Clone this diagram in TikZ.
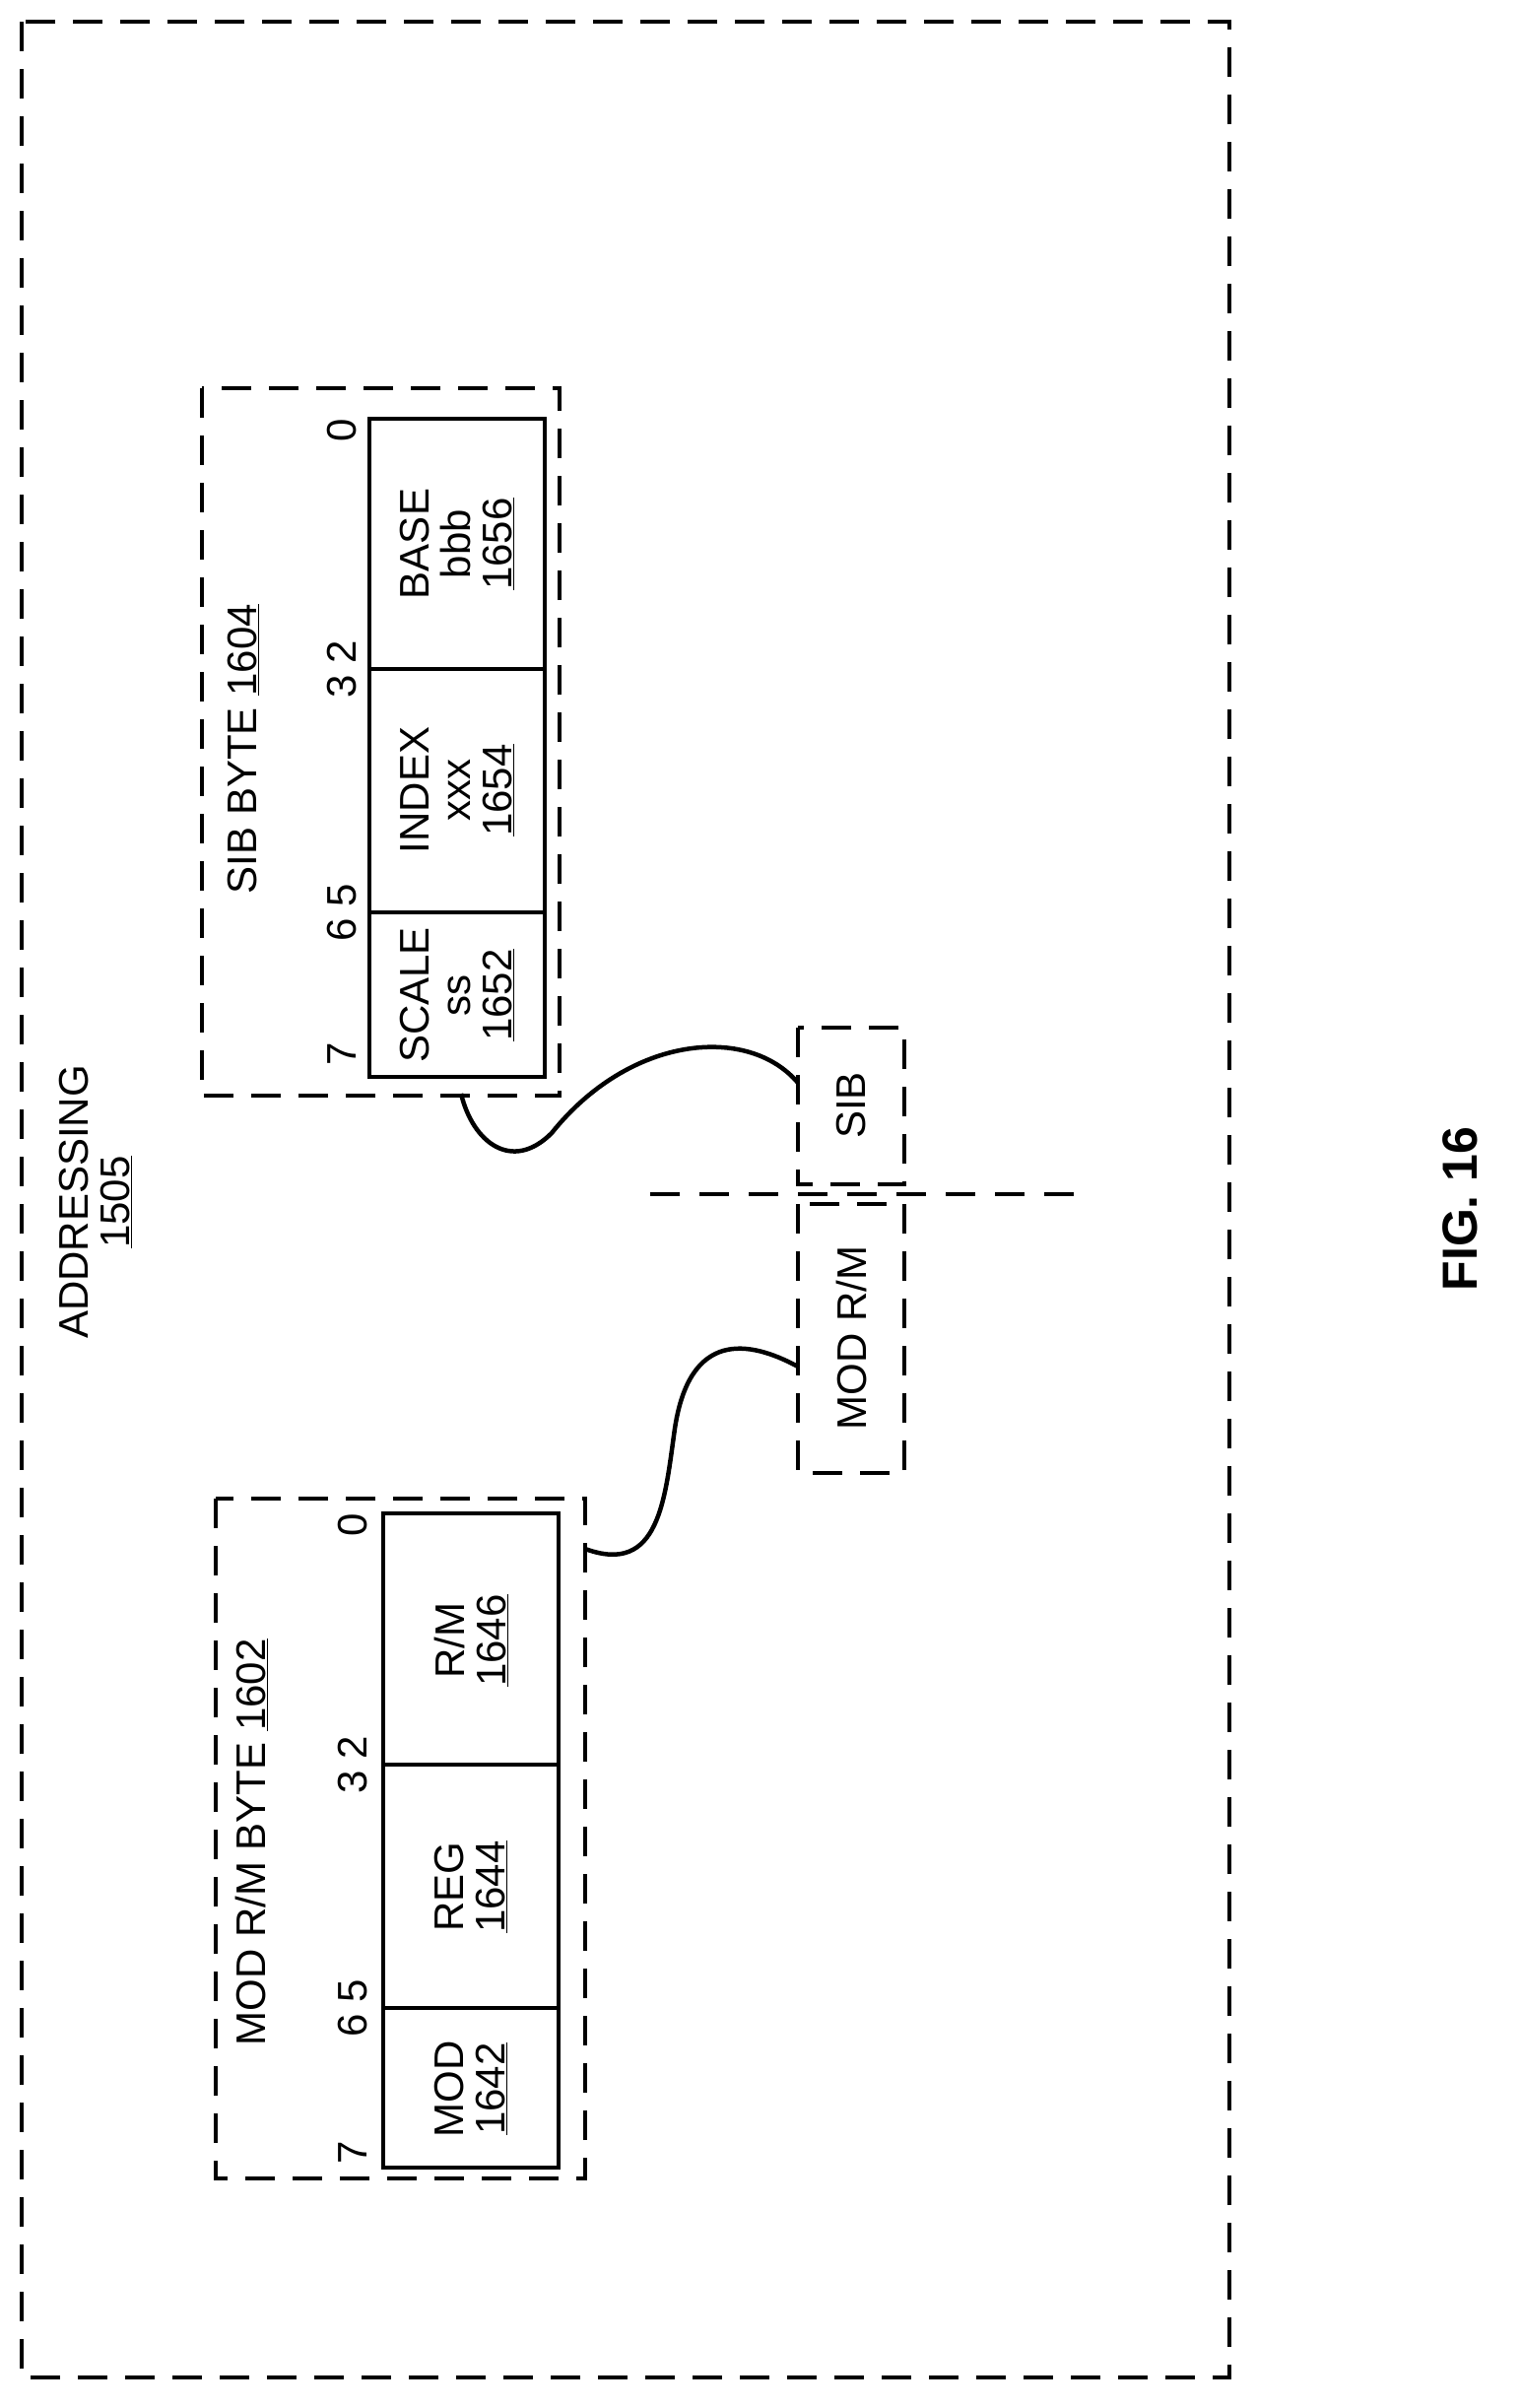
\documentclass[tikz,border=0pt]{standalone}
\usepackage{fontspec}
\setmainfont{Liberation Sans}
\begin{document}
\begin{tikzpicture}[x=1pt,y=-1pt,
  dbox/.style={draw, line width=4pt, dash pattern=on 30pt off 18pt},
  sbox/.style={draw, line width=4pt},
  lbl/.style={rotate=90, inner sep=0pt, font=\fontsize{42}{42}\selectfont, align=center},
  wire/.style={line width=4.5pt}]
  % page
  \useasboundingbox (0,0) rectangle (1544,2444);
  \draw[dbox] (22,22) rectangle (1248,2413);
  \node[lbl] (addr) at (97,1220) {ADDRESSING\\\underline{1505}};

  % SIB byte
  \draw[dbox] (205,394) rectangle (568,1112);
  \draw[sbox] (375,425) rectangle (553,1093);
  \draw[sbox] (375,679) -- (553,679);
  \draw[sbox] (375,926) -- (553,926);
  \node[lbl] (sibt) at (247,760) {SIB BYTE \underline{1604}};
  \node[lbl] at (347,437) {0};
  \node[lbl] at (347,679) {3 2};
  \node[lbl] at (347,926) {6 5};
  \node[lbl] at (347,1070) {7};
  \node[lbl] (base) at (464,552) {BASE\\bbb\\\underline{1656}};
  \node[lbl] (index) at (464,802) {INDEX\\xxx\\\underline{1654}};
  \node[lbl] (scale) at (464,1010) {SCALE\\ss\\\underline{1652}};

  % MOD R/M byte
  \draw[dbox] (219,1521) rectangle (594,2211);
  \draw[sbox] (389,1536) rectangle (567,2200);
  \draw[sbox] (389,1791) -- (567,1791);
  \draw[sbox] (389,2038) -- (567,2038);
  \node[lbl] (modt) at (255,1870) {MOD R/M BYTE \underline{1602}};
  \node[lbl] at (358,1548) {0};
  \node[lbl] at (358,1791) {3 2};
  \node[lbl] at (358,2038) {6 5};
  \node[lbl] at (358,2185) {7};
  \node[lbl] (rm) at (478,1665) {R/M\\\underline{1646}};
  \node[lbl] (reg) at (478,1915) {REG\\\underline{1644}};
  \node[lbl] (mod) at (478,2120) {MOD\\\underline{1642}};

  % instruction bytes
  \draw[dbox] (810,1043) rectangle (918,1202);
  \node[lbl] (sib) at (864,1122) {SIB};
  \draw[dbox] (810,1222) rectangle (918,1495);
  \node[lbl] (modrm) at (864,1358) {MOD R/M};
  \draw[line width=4pt, dash pattern=on 30pt off 20pt] (660,1212) -- (1095,1212);

  \coordinate (a1) at (810,1099);
  \coordinate (a2) at (468,1110);
  \draw[wire] (a1) .. controls (760,1040) and (640,1050) .. (560,1150)
    .. controls (520,1190) and (480,1160) .. (a2);
  \coordinate (b1) at (810,1387);
  \coordinate (b2) at (594,1572);
  \draw[wire] (b1) .. controls (760,1360) and (700,1350) .. (685,1450)
    .. controls (675,1520) and (670,1600) .. (b2);

  \node[lbl, font=\fontsize{50}{52}\selectfont\bfseries] (fig) at (1482,1227) {FIG. 16};
\end{tikzpicture}
\end{document}
